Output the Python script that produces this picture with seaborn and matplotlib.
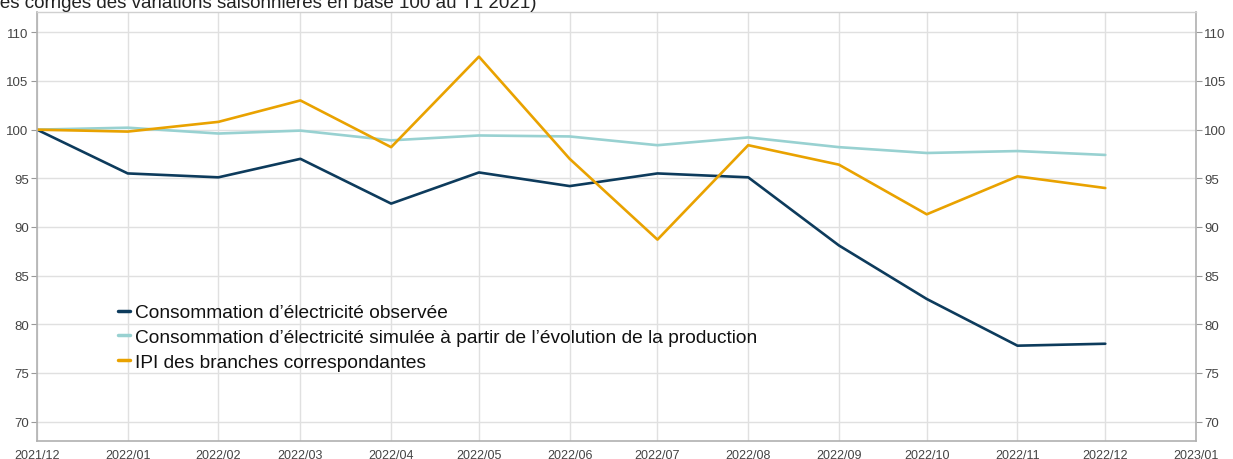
import matplotlib
matplotlib.use("Agg")
import matplotlib.pyplot as plt
import matplotlib.dates as mdates
import seaborn as sns
import pandas as pd

months = ["2021-12", "2022-01", "2022-02", "2022-03", "2022-04", "2022-05", "2022-06",
          "2022-07", "2022-08", "2022-09", "2022-10", "2022-11", "2022-12"]
observee = [100.0, 95.5, 95.1, 97.0, 92.4, 95.6, 94.2, 95.5, 95.1, 88.1, 82.6, 77.8, 78.0]
simulee = [100.0, 100.2, 99.6, 99.9, 98.9, 99.4, 99.3, 98.4, 99.2, 98.2, 97.6, 97.8, 97.4]
ipi = [100.0, 99.8, 100.8, 103.0, 98.2, 107.5, 97.0, 88.7, 98.4, 96.4, 91.3, 95.2, 94.0]

labels = ["Consommation d\u2019électricité observée",
          "Consommation d\u2019électricité simulée à partir de l\u2019évolution de la production",
          "IPI des branches correspondantes"]
colors = ["#0d3b5c", "#98d1d1", "#e9a200"]
yticks = [70, 75, 80, 85, 90, 95, 100, 105, 110]
title = "(Indices corrigés des variations saisonnières en base 100 au T1 2021)"

sns.set_style("white")
plt.rcParams["font.family"] = ["Liberation Sans", "DejaVu Sans"]

dates = pd.to_datetime(months)
df = pd.concat([
    pd.DataFrame({"date": dates, "valeur": vals, "serie": lab})
    for vals, lab in zip([observee, simulee, ipi], labels)
])

fig = plt.figure(figsize=(12.33, 4.6), dpi=100)
ax = fig.add_axes([0.030, 0.039, 0.940, 0.933])

sns.lineplot(data=df, x="date", y="valeur", hue="serie", hue_order=labels,
             palette=colors, linewidth=1.9, ax=ax, legend=False)

ax.set_xlim(pd.Timestamp("2021-12-01"), pd.Timestamp("2023-01-01"))
ax.set_ylim(68.0, 112.1)
ax.set_yticks(yticks)
ax.xaxis.set_major_locator(mdates.MonthLocator())
ax.xaxis.set_major_formatter(mdates.DateFormatter("%Y/%m"))
ax.set_xlabel("")
ax.set_ylabel("")

ax.grid(True, color="#e0e0e0", linewidth=1.0)
ax.set_axisbelow(True)
for side in ["left", "bottom", "right"]:
    ax.spines[side].set_color("#b0b0b0")
    ax.spines[side].set_linewidth(1.2)
ax.spines["top"].set_color("#d0d0d0")
ax.spines["top"].set_linewidth(1.0)

ax.tick_params(axis="both", which="major", length=4, width=0.8, color="#999999",
               labelsize=9.5, labelcolor="#444444", pad=2)
ax.tick_params(axis="x", labelsize=9)
ax.tick_params(axis="y", left=True, right=True, labelleft=True, labelright=True)

handles = [plt.Line2D([], [], color=c, linewidth=2.5) for c in colors]
leg = ax.legend(handles, labels, loc="upper left", bbox_to_anchor=(0.0635, 0.337),
                frameon=False, handlelength=0.6, handletextpad=0.3,
                labelspacing=0.38, fontsize=13.75, borderaxespad=0)
for t in leg.get_texts():
    t.set_color("#111111")

fig.text(536 / 1233, 1 - 8.5 / 460, title, ha="right", va="baseline",
         fontsize=13.5, color="#222222")

fig.savefig("out.png", dpi=100)
